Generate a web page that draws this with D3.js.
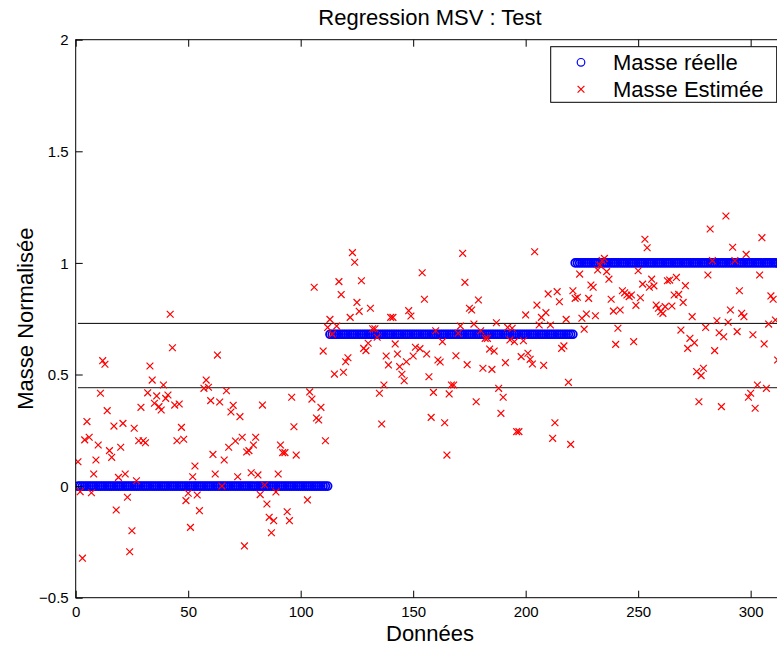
<!DOCTYPE html>
<html>
<head>
<meta charset="utf-8">
<script src="https://cdn.jsdelivr.net/npm/d3@7/dist/d3.min.js"></script>
<style>
  html, body { margin: 0; padding: 0; background: #fff; overflow: hidden; }
  svg { display: block; font-family: "Liberation Sans", Arial, Helvetica, sans-serif; }
</style>
</head>
<body>
<svg id="chart" width="777" height="645"></svg>
<script>
// True normalised mass per class of samples (sample index ranges)
const classLevels = [0, 0.68, 1];
const classStart  = [1, 113, 222];
const classEnd    = [112, 221, 320];

// SVM regression estimates: sample index and estimated normalised mass
const estIndex = [
  1,2,3,4,5,6,7,8,9,10,11,12,13,14,15,16,17,18,19,20,21,22,23,24,25,26,27,28,29,30,
  31,32,33,34,35,36,37,38,39,40,41,42,43,44,45,46,47,48,49,50,51,52,53,54,55,57,58,59,60,
  61,62,63,64,65,66,67,68,69,70,71,72,73,74,75,76,77,78,79,80,81,82,83,84,85,86,87,88,89,90,
  91,92,93,94,95,96,97,98,103,104,105,106,107,108,109,110,111,
  112,113,114,115,116,117,118,119,120,121,122,123,124,125,126,127,128,129,130,
  131,132,133,134,135,136,137,138,139,140,141,142,143,144,145,146,147,148,149,150,
  151,153,154,155,156,157,158,159,160,161,162,163,164,165,166,167,168,169,170,
  171,172,173,174,175,176,177,178,179,180,181,182,183,184,185,186,187,188,189,190,
  191,192,193,194,195,196,197,198,199,200,201,202,203,204,205,206,207,208,209,210,
  211,212,213,214,215,216,217,218,219,220,221,
  222,223,224,225,226,227,228,229,230,231,232,233,234,235,236,237,238,239,240,
  241,242,243,244,245,246,247,248,249,250,251,252,253,254,255,256,257,258,259,260,
  261,262,263,264,265,266,267,268,269,270,271,272,273,274,275,276,277,278,279,280,
  281,282,283,284,285,286,287,288,289,290,291,292,293,294,295,296,297,298,299,300,
  301,302,303,304,305,306,307,308,309,310,311,312
];
const estValue = [
  0.109,-0.025,-0.323,0.207,0.289,0.219,-0.03,0.054,0.117,0.184,0.416,0.562,0.546,0.338,0.159,0.129,0.269,-0.107,0.039,0.174,
  0.281,0.054,-0.05,-0.294,-0.2,0.259,0.024,0.203,0.353,0.203,
  0.194,0.418,0.538,0.475,0.371,0.404,0.356,0.341,0.453,0.393,0.408,0.77,0.62,0.363,0.203,0.368,0.263,0.21,-0.065,-0.032,
  -0.185,0.042,0.09,-0.04,-0.11,0.438,0.475,0.443,0.383,
  0.142,0.054,0.587,0.377,0.0,0.117,0.427,0.174,0.332,0.362,0.202,0.042,0.311,0.219,-0.268,0.153,0.159,0.06,0.184,0.219,
  0.05,-0.038,0.363,0.005,-0.08,-0.14,-0.209,-0.155,-0.026,0.054,
  0.184,0.15,0.15,-0.115,-0.155,0.398,0.266,0.139,-0.062,0.422,0.39,0.891,0.305,0.296,0.353,0.605,0.203,
  0.711,0.747,0.681,0.502,0.717,0.916,0.858,0.51,0.557,0.575,0.756,1.046,1.003,0.823,0.783,0.92,0.617,0.607,0.64,
  0.797,0.705,0.705,0.667,0.416,0.278,0.453,0.583,0.543,0.756,0.756,0.637,0.592,0.535,0.501,0.472,0.557,0.786,0.762,0.583,
  0.622,0.616,0.956,0.837,0.592,0.49,0.308,0.42,0.696,0.565,0.556,0.647,0.284,0.139,0.413,0.453,0.453,0.584,0.685,
  0.717,1.043,0.913,0.544,0.797,0.789,0.726,0.378,0.834,0.696,0.528,0.662,0.662,0.614,0.523,0.605,0.732,0.438,0.326,0.398,
  0.553,0.711,0.655,0.707,0.647,0.244,0.244,0.58,0.651,0.767,0.595,0.568,0.547,1.05,0.811,0.722,0.756,0.541,0.777,0.861,
  0.722,0.214,0.284,0.871,0.826,0.617,0.628,0.747,0.465,0.187,0.875,
  0.841,0.846,0.95,0.752,0.703,0.771,0.841,0.901,0.891,0.763,0.968,0.99,1.01,1.02,0.961,0.927,0.837,0.784,0.635,
  0.707,0.789,0.875,0.866,0.856,0.849,0.856,0.647,0.81,0.965,0.844,0.905,1.106,1.068,0.891,0.927,0.897,0.811,0.797,0.781,
  0.774,0.804,0.92,0.923,0.807,0.856,0.935,0.859,0.699,0.823,0.898,0.617,0.662,0.759,0.642,0.513,0.378,0.495,0.528,0.711,
  0.946,1.152,1.01,0.607,0.741,0.687,0.356,0.669,1.21,0.734,0.789,1.07,1.01,0.692,0.875,0.774,0.759,1.038,0.398,0.416,
  0.678,0.349,0.453,0.946,1.113,0.637,0.438,0.726,0.852,0.837,0.744,0.565
];

// Two horizontal reference levels
const refLevels = [0.729, 0.441];

const xTicks = [0, 50, 100, 150, 200, 250, 300];
const yTicks = [-0.5, 0, 0.5, 1, 1.5, 2];

const titleText = "Regression MSV : Test";
const xLabelText = "Données";
const yLabelText = "Masse Normalisée";
const legendLabels = ["Masse réelle", "Masse Estimée"];

const svg = d3.select("#chart");
const x = d3.scaleLinear().domain([0, 315]).range([75.7, 784.4]);
const y = d3.scaleLinear().domain([-0.5, 2]).range([597.7, 39.7]);
const [x0, x1] = x.range();
const [yb, yt] = y.range();

// plot clip
svg.append("defs").append("clipPath").attr("id", "plotclip")
  .append("rect").attr("x", x0).attr("y", yt).attr("width", x1 - x0).attr("height", yb - yt);

const plot = svg.append("g").attr("clip-path", "url(#plotclip)");

// reference lines
plot.selectAll("line.ref").data(refLevels).enter().append("line")
  .attr("class", "ref")
  .attr("x1", x(1)).attr("x2", x(classEnd[2]))
  .attr("y1", d => y(d)).attr("y2", d => y(d))
  .attr("stroke", (d, i) => i === 0 ? "#000" : "#444")
  .attr("stroke-width", (d, i) => i === 0 ? 1 : 1.3);

// true mass points
const realPts = [];
classLevels.forEach((lvl, k) => {
  for (let i = classStart[k]; i <= classEnd[k]; i++) realPts.push([i, lvl]);
});
plot.selectAll("circle.real").data(realPts).enter().append("circle")
  .attr("class", "real")
  .attr("cx", d => x(d[0])).attr("cy", d => y(d[1]))
  .attr("r", 3.9).attr("fill", "none").attr("stroke", "#0000ff").attr("stroke-width", 1.8);

// estimated points as x markers
const s = 3.4;
const crossPath = (cx, cy) => `M${cx - s},${cy - s}L${cx + s},${cy + s}M${cx - s},${cy + s}L${cx + s},${cy - s}`;
plot.selectAll("path.est").data(estIndex.map((d, i) => [d, estValue[i]])).enter().append("path")
  .attr("class", "est")
  .attr("d", d => crossPath(x(d[0]), y(d[1])))
  .attr("stroke", "#ff0000").attr("stroke-width", 1.2).attr("fill", "none");

// axes box
const axisG = svg.append("g");
axisG.append("rect").attr("x", x0).attr("y", yt).attr("width", x1 - x0).attr("height", yb - yt)
  .attr("fill", "none").attr("stroke", "#000").attr("stroke-width", 1);

// bottom axis with inward ticks
const tickLen = 7;
const axBottom = axisG.append("g").attr("transform", `translate(0,${yb})`)
  .call(d3.axisBottom(x).tickValues(xTicks).tickSizeInner(-tickLen).tickSizeOuter(0).tickPadding(0).tickFormat(d3.format("d")));
axBottom.select(".domain").remove();
axBottom.selectAll("text").attr("y", 19).attr("dy", 0).attr("font-size", 15).attr("font-family", "Liberation Sans, Arial, sans-serif");

// top ticks
const axTop = axisG.append("g").attr("transform", `translate(0,${yt})`)
  .call(d3.axisTop(x).tickValues(xTicks).tickSizeInner(-tickLen).tickSizeOuter(0).tickFormat(""));
axTop.select(".domain").remove();

// left axis with inward ticks
const axLeft = axisG.append("g").attr("transform", `translate(${x0},0)`)
  .call(d3.axisLeft(y).tickValues(yTicks).tickSizeInner(-tickLen).tickSizeOuter(0).tickPadding(0)
    .tickFormat(d => d3.format("")(d).replace("-", "\u2212")));
axLeft.select(".domain").remove();
axLeft.selectAll("text").attr("x", -7).attr("dy", "0.35em").attr("font-size", 15).attr("font-family", "Liberation Sans, Arial, sans-serif");

// right ticks
const axRight = axisG.append("g").attr("transform", `translate(${x1},0)`)
  .call(d3.axisRight(y).tickValues(yTicks).tickSizeInner(-tickLen).tickSizeOuter(0).tickFormat(""));
axRight.select(".domain").remove();

axisG.selectAll(".tick line").attr("stroke", "#000");
axisG.selectAll(".tick text").attr("fill", "#000");

// titles
svg.append("text").attr("x", (x0 + x1) / 2).attr("y", 25).attr("text-anchor", "middle")
  .attr("font-size", 22).text(titleText);
svg.append("text").attr("x", (x0 + x1) / 2).attr("y", 641).attr("text-anchor", "middle")
  .attr("font-size", 22).text(xLabelText);
svg.append("text").attr("transform", `translate(33,${(yt + yb) / 2}) rotate(-90)`)
  .attr("text-anchor", "middle").attr("font-size", 22).text(yLabelText);

// legend
const lg = svg.append("g");
lg.append("rect").attr("x", 550.7).attr("y", 46.7).attr("width", 226).attr("height", 55.6)
  .attr("fill", "#fff").attr("stroke", "#000").attr("stroke-width", 1);
lg.append("circle").attr("cx", 581).attr("cy", 62.3).attr("r", 3.8)
  .attr("fill", "none").attr("stroke", "#0000ff").attr("stroke-width", 1.2);
lg.append("path").attr("d", crossPath(581, 89.3)).attr("stroke", "#ff0000").attr("stroke-width", 1.2);
lg.selectAll("text").data(legendLabels).enter().append("text")
  .attr("x", 613).attr("y", (d, i) => 70 + i * 27).attr("font-size", 22).text(d => d);
</script>
</body>
</html>
